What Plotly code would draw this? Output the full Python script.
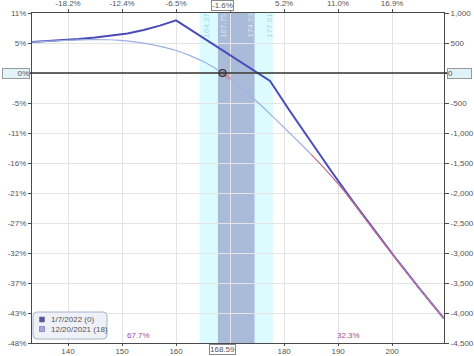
import plotly.graph_objects as go

# ---------------- data ----------------
exp_price = [133.33, 136, 139, 142, 145, 148, 151, 154, 157, 160,
             177.4, 181, 185, 189, 193, 197, 201, 205, 209.6]
exp_pl = [516, 530, 547, 566, 590, 620, 660, 718, 790, 877,
          -133, -624, -1155, -1671, -2172, -2658, -3129, -3586, -4093]

t0_price = [133.33, 136.5, 139.8, 142.5, 145.3, 147.5, 149.6, 152, 154.6, 157.3, 160.2,
            162.6, 165.4, 168.59, 171, 173, 175, 178, 181, 183, 185, 187, 189, 191, 193,
            197, 201, 205, 209.6]
t0_pl = [516, 531, 544, 553, 557, 554, 545, 524, 490, 440, 370,
         290, 175, 0, -165, -320, -480, -735, -1000, -1175, -1355, -1545, -1745, -1955, -2190,
         -2668, -3135, -3590, -4096]

red_price = [185, 187, 189, 191, 193, 197, 201, 205, 209.6]
red_pl = [-1355, -1545, -1745, -1955, -2190, -2668, -3135, -3590, -4096]

pink_price = [168.59, 169.3, 170.0]
pink_pl = [0, -48, -96]

current_price = 168.59
band_outer = [164.37, 177.91]
band_inner = [167.75, 174.53]

x_ticks = [140, 150, 160, 170, 180, 190, 200]
x_bottom_labels = ["140", "150", "160", "", "180", "190", "200"]
x_top_labels = ["-18.2%", "-12.4%", "-6.5%", "", "5.2%", "11.0%", "16.9%"]
y_ticks = [1000, 500, 0, -500, -1000, -1500, -2000, -2500, -3000, -3500, -4000, -4500]
y_left_labels = ["11%", "5%", "", "-5%", "-11%", "-16%", "-21%", "-27%", "-32%", "-37%", "-43%", "-48%"]
y_right_labels = ["1,000", "500", "", "-500", "-1,000", "-1,500", "-2,000", "-2,500",
                  "-3,000", "-3,500", "-4,000", "-4,500"]

prob_labels = ["67.7%", "32.3%"]
prob_x = [153.0, 192.0]
prob_y = [-4376, -4376]

legend_names = ["1/7/2022 (0)", "12/20/2021 (18)"]

# ---------------- style ----------------
FONT = "Liberation Sans, Arial, sans-serif"
TXT = "#555555"
DARK = "#4a4abb"
LIGHT = "#9db2e2"
RED = "#e0506a"
GRID = "#e4e4e4"
AX = "#4a4a4a"

W, H = 474, 356
L, R, T, B = 32, 30, 13, 13
PW, PH = W - L - R, H - T - B


def px(x):
    return (x - L) / PW


def py(y):
    return (H - B - y) / PH


fig = go.Figure()

fig.add_trace(go.Scatter(x=exp_price, y=exp_pl, mode="lines",
                         line=dict(color=DARK, width=2), name=legend_names[0],
                         showlegend=False, hoverinfo="skip"))
fig.add_trace(go.Scatter(x=t0_price, y=t0_pl, mode="lines",
                         line=dict(color=LIGHT, width=1.2, shape="spline", smoothing=0.6),
                         name=legend_names[1], showlegend=False, hoverinfo="skip"))
fig.add_trace(go.Scatter(x=red_price, y=red_pl, mode="lines",
                         line=dict(color=RED, width=1, shape="spline", smoothing=0.6),
                         showlegend=False, hoverinfo="skip"))
fig.add_trace(go.Scatter(x=pink_price, y=pink_pl, mode="lines",
                         line=dict(color="rgba(230,120,130,0.45)", width=4),
                         showlegend=False, hoverinfo="skip"))
fig.add_trace(go.Scatter(x=[current_price], y=[0], mode="markers",
                         marker=dict(size=7, color="rgba(120,110,130,0.55)",
                                     line=dict(color="#333", width=1.2)),
                         showlegend=False, hoverinfo="skip"))
# invisible carriers for the secondary axes
fig.add_trace(go.Scatter(x=exp_price, y=exp_pl, xaxis="x2", yaxis="y2", mode="lines",
                         line=dict(width=0), opacity=0, showlegend=False, hoverinfo="skip"))

shapes = []
# bands
shapes.append(dict(type="rect", xref="x", yref="paper", x0=band_outer[0], x1=band_outer[1],
                   y0=0, y1=1, fillcolor="#dcfbfe", line=dict(width=0), layer="below"))
shapes.append(dict(type="rect", xref="x", yref="paper", x0=band_inner[0], x1=band_inner[1],
                   y0=0, y1=1, fillcolor="#aabbd9", line=dict(width=0), layer="below"))
# zero line
shapes.append(dict(type="line", xref="paper", yref="y", x0=px(30), x1=px(447), y0=0, y1=0,
                   line=dict(color="#333", width=1.5)))

# manual legend box (rounded)
x0, x1 = px(33), px(107)
yt, yb = py(312), py(339)
rx, ry = 4 / PW, 4 / PH
path = (f"M {x0+rx},{yt} L {x1-rx},{yt} Q {x1},{yt} {x1},{yt-ry} L {x1},{yb+ry} "
        f"Q {x1},{yb} {x1-rx},{yb} L {x0+rx},{yb} Q {x0},{yb} {x0},{yb+ry} "
        f"L {x0},{yt-ry} Q {x0},{yt} {x0+rx},{yt} Z")
shapes.append(dict(type="path", xref="paper", yref="paper", path=path,
                   fillcolor="#eef1f8", line=dict(color="#a8b2c8", width=1)))
leg_y = [319.5, 329.0]
leg_col = ["#56569a", "#a3a8e2"]
for yy, c in zip(leg_y, leg_col):
    shapes.append(dict(type="rect", xref="paper", yref="paper",
                       x0=px(39.5), x1=px(44.5), y0=py(yy - 2.5), y1=py(yy + 2.5),
                       fillcolor=c, line=dict(color="#6a6a90", width=0.6)))

annotations = []
for yy, name in zip(leg_y, legend_names):
    annotations.append(dict(xref="paper", yref="paper", x=px(48.5), y=py(yy), text=name,
                            showarrow=False, xanchor="left", yanchor="middle",
                            font=dict(family=FONT, size=8, color=TXT)))

# band edge labels
band_lbls = [(band_outer[0], 6, "#a2d8e8"), (band_inner[0], 5, "#dbe3f2"),
             (band_inner[1], -5, "#dbe3f2"), (band_outer[1], -4, "#a2d8e8")]
for v, sh, col in band_lbls:
    annotations.append(dict(xref="x", yref="paper", x=v, y=py(25), text=f"{v:.2f}",
                            textangle=-90, showarrow=False, xshift=sh,
                            xanchor="center", yanchor="middle",
                            font=dict(family=FONT, size=8, color=col)))

# probability labels
for t, xv, yv in zip(prob_labels, prob_x, prob_y):
    annotations.append(dict(xref="x", yref="y", x=xv, y=yv, text=t, showarrow=False,
                            font=dict(family=FONT, size=8, color="#a04ca0")))

# boxed markers
annotations.append(dict(xref="paper", yref="y", x=px(30), y=0, text="0%", showarrow=False,
                        xanchor="right", yanchor="middle", align="right", width=26,
                        bgcolor="#e2f4f8", bordercolor="#999", borderwidth=1, borderpad=0,
                        font=dict(family=FONT, size=8, color=TXT)))
annotations.append(dict(xref="paper", yref="y", x=px(447), y=0, text="0", showarrow=False,
                        xanchor="left", yanchor="middle", align="left", width=23,
                        bgcolor="#dff2f8", bordercolor="#999", borderwidth=1, borderpad=0,
                        font=dict(family=FONT, size=8, color=TXT)))
annotations.append(dict(xref="x", yref="paper", x=current_price, y=1, yshift=2,
                        text="-1.6%", showarrow=False, xanchor="center", yanchor="bottom",
                        bgcolor="white", bordercolor="#888", borderwidth=1, borderpad=0,
                        font=dict(family=FONT, size=8, color=TXT)))
annotations.append(dict(xref="x", yref="paper", x=current_price, y=0, yshift=-1,
                        text="168.59", showarrow=False, xanchor="center", yanchor="top",
                        bgcolor="white", bordercolor="#888", borderwidth=1, borderpad=0,
                        font=dict(family=FONT, size=8, color=TXT)))

tickfont = dict(family=FONT, size=8, color=TXT)
xr = [exp_price[0], exp_price[-1]]
yr = [y_ticks[-1], y_ticks[0]]

fig.update_layout(
    width=W, height=H,
    margin=dict(l=L, r=R, t=T, b=B, pad=0),
    paper_bgcolor="white", plot_bgcolor="white",
    showlegend=False,
    shapes=shapes, annotations=annotations,
    xaxis=dict(range=xr, tickmode="array", tickvals=x_ticks, ticktext=x_bottom_labels,
               showgrid=True, gridcolor=GRID, gridwidth=1, zeroline=False,
               showline=True, linecolor=AX, linewidth=1, mirror=True,
               ticks="outside", ticklen=2, tickcolor=AX, tickfont=tickfont, automargin=False),
    xaxis2=dict(range=xr, overlaying="x", side="top", anchor="y", tickmode="array",
                tickvals=x_ticks, ticktext=x_top_labels, showgrid=False, zeroline=False,
                ticks="outside", ticklen=3, tickcolor=AX, tickfont=tickfont, automargin=False),
    yaxis=dict(range=yr, tickmode="array", tickvals=y_ticks, ticktext=y_left_labels,
               showgrid=True, gridcolor=GRID, gridwidth=1, zeroline=False,
               showline=True, linecolor=AX, linewidth=1, mirror=True,
               ticks="outside", ticklen=3, tickcolor=AX, tickfont=tickfont, automargin=False),
    yaxis2=dict(range=yr, overlaying="y", side="right", anchor="x", tickmode="array",
                tickvals=y_ticks, ticktext=y_right_labels, showgrid=False, zeroline=False,
                ticks="outside", ticklen=4, tickcolor=AX, tickfont=tickfont, automargin=False),
)
try:
    fig.update_layout(xaxis_ticklabelstandoff=-2)
except Exception:
    fig.update_layout(xaxis_tickfont_size=7.5)

fig.write_html("out.html")
